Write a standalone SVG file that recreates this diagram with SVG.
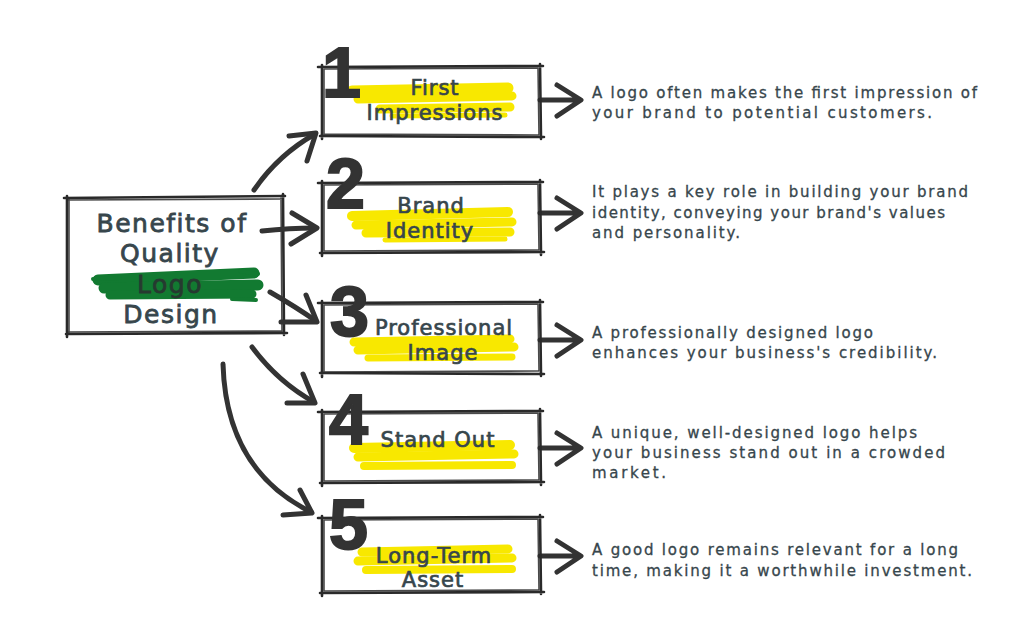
<svg xmlns="http://www.w3.org/2000/svg" width="1020" height="626" viewBox="0 0 1020 626">
<style>
.sk{fill:none;stroke:#2a2a2a;stroke-width:2.6;stroke-linecap:round;stroke-linejoin:round}
.sk2{fill:none;stroke:#2a2a2a;stroke-width:1.6;stroke-linecap:round;opacity:.85}
.ar{fill:none;stroke:#333;stroke-width:5;stroke-linecap:round;stroke-linejoin:round}
.hy{fill:none;stroke:#f8e800;stroke-linecap:round}
.hg{fill:none;stroke:#127a31;stroke-linecap:round}
.lbl{font-family:"DejaVu Sans","Open Sans",sans-serif;font-size:21px;letter-spacing:1px;fill:#37464c;stroke:#37464c;stroke-width:0.7;text-anchor:middle}
.ttl{font-family:"DejaVu Sans","Open Sans",sans-serif;font-size:25px;letter-spacing:1.5px;fill:#37464c;stroke:#37464c;stroke-width:0.8;text-anchor:middle}
.dsc{font-family:"DejaVu Sans","Open Sans",sans-serif;font-size:15px;fill:#37464c;stroke:#37464c;stroke-width:0.3}
.num{font-family:"Liberation Sans",Arial,sans-serif;font-size:70px;font-weight:bold;fill:#333;stroke:#333;stroke-width:2}
</style>
<rect width="1020" height="626" fill="#fff"/>

<g id="main">
<path class="sk" d="M64 198 L285 196 M283 194 L284 335 M287 333 L66 334 M67 337 L67 196"/>
<path class="sk2" d="M68 200 L282 199 M281 198 L282 332 M282 331 L68 332 M69 333 L69 199"/>
<path class="hg" stroke-width="11" d="M98 280 L254 273"/>
<path class="hg" stroke-width="11" d="M104 288 L258 285"/>
<path class="hg" stroke-width="9" d="M110 295 L252 294"/>
<path class="hg" stroke-width="4" d="M93 279 L120 278 M240 271 L258 274 M232 299 L256 300"/>
<text class="ttl" x="172" y="232">Benefits of</text>
<text class="ttl" x="170" y="262">Quality</text>
<text class="ttl" x="170" y="293" style="fill:#263a30;stroke:#263a30">Logo</text>
<text class="ttl" x="171" y="323">Design</text>
</g>

<g id="connectors">
<path class="ar" d="M254 190 Q278 155 315 134"/>
<path class="ar" d="M289 136 L316 133 L307 161"/>
<path class="ar" d="M262 231 Q290 228 315 228"/>
<path class="ar" d="M292 213 L317 228 L291 244"/>
<path class="ar" d="M270 292 Q296 307 316 321"/>
<path class="ar" d="M306 295 L317 322 L281 322"/>
<path class="ar" d="M252 347 Q278 382 314 402"/>
<path class="ar" d="M303 374 L315 403 L287 403"/>
<path class="ar" d="M223 364 Q226 470 311 512"/>
<path class="ar" d="M300 490 L312 513 L283 515"/>
<path class="ar" d="M540 100 L580 100 M557 85 L581 100 L557 116"/>
<path class="ar" d="M540 213 L580 213 M557 198 L581 213 L557 229"/>
<path class="ar" d="M540 340 L580 340 M557 325 L581 340 L557 356"/>
<path class="ar" d="M540 448 L580 448 M557 433 L581 448 L557 464"/>
<path class="ar" d="M540 556 L580 556 M557 541 L581 556 L557 572"/>
</g>

<g id="node1">
<path class="sk" d="M318 67 L543 66 M540 64 L541 139 M544 137 L320 136 M322 139 L322 65"/>
<path class="sk2" d="M324 69 L538 68 M538 68 L539 135 M538 135 L324 134 M324 135 L324 69"/>
<path class="hy" stroke-width="11" d="M352 91 L508 88"/>
<path class="hy" stroke-width="9" d="M358 99 L512 96"/>
<path class="hy" stroke-width="9" d="M380 109 L510 107"/>
<path class="hy" stroke-width="5" d="M392 116 L505 115"/>
<text class="num" x="322" y="97">1</text>
<text class="lbl" x="435" y="95">First</text>
<text class="lbl" x="435" y="120">Impressions</text>
<text class="dsc" x="592" y="98" textLength="385" lengthAdjust="spacing">A logo often makes the first impression of</text>
<text class="dsc" x="592" y="118" textLength="340" lengthAdjust="spacing">your brand to potential customers.</text>
</g>

<g id="node2">
<path class="sk" d="M318 183 L543 182 M540 180 L541 255 M544 252 L320 253 M322 256 L322 181"/>
<path class="sk2" d="M324 185 L538 184 M538 184 L539 250 M538 250 L324 251 M324 251 L324 185"/>
<path class="hy" stroke-width="10" d="M352 216 L508 212"/>
<path class="hy" stroke-width="9" d="M356 225 L512 222"/>
<path class="hy" stroke-width="9" d="M366 233 L510 232"/>
<path class="hy" stroke-width="5" d="M385 240 L505 239"/>
<text class="num" x="326" y="208">2</text>
<text class="lbl" x="431" y="213">Brand</text>
<text class="lbl" x="430" y="238">Identity</text>
<text class="dsc" x="592" y="197" textLength="376" lengthAdjust="spacing">It plays a key role in building your brand</text>
<text class="dsc" x="592" y="218" textLength="353" lengthAdjust="spacing">identity, conveying your brand's values</text>
<text class="dsc" x="592" y="238" textLength="148" lengthAdjust="spacing">and personality.</text>
</g>

<g id="node3">
<path class="sk" d="M318 303 L543 302 M540 300 L541 376 M544 374 L320 373 M322 377 L322 301"/>
<path class="sk2" d="M324 305 L538 304 M538 304 L539 371 M538 371 L324 372 M324 372 L324 305"/>
<path class="hy" stroke-width="9" d="M354 342 L510 339"/>
<path class="hy" stroke-width="9" d="M358 350 L514 347"/>
<path class="hy" stroke-width="7" d="M368 358 L512 357"/>
<text class="num" x="330" y="336">3</text>
<text class="lbl" x="444" y="335">Professional</text>
<text class="lbl" x="443" y="360">Image</text>
<text class="dsc" x="592" y="338" textLength="281" lengthAdjust="spacing">A professionally designed logo</text>
<text class="dsc" x="592" y="358" textLength="345" lengthAdjust="spacing">enhances your business's credibility.</text>
</g>

<g id="node4">
<path class="sk" d="M318 412 L543 411 M540 409 L541 485 M544 482 L320 483 M322 486 L322 410"/>
<path class="sk2" d="M324 414 L538 413 M538 413 L539 480 M538 480 L324 481 M324 481 L324 414"/>
<path class="hy" stroke-width="10" d="M354 448 L510 445"/>
<path class="hy" stroke-width="9" d="M358 457 L514 454"/>
<path class="hy" stroke-width="8" d="M364 466 L512 465"/>
<text class="num" x="329" y="444">4</text>
<text class="lbl" x="438" y="447">Stand Out</text>
<text class="dsc" x="592" y="438" textLength="325" lengthAdjust="spacing">A unique, well-designed logo helps</text>
<text class="dsc" x="592" y="458" textLength="353" lengthAdjust="spacing">your business stand out in a crowded</text>
<text class="dsc" x="592" y="478" textLength="74" lengthAdjust="spacing">market.</text>
</g>

<g id="node5">
<path class="sk" d="M318 518 L543 517 M540 515 L541 594 M544 592 L320 593 M322 596 L322 516"/>
<path class="sk2" d="M324 520 L538 519 M538 519 L539 590 M538 590 L324 591 M324 591 L324 520"/>
<path class="hy" stroke-width="9" d="M362 552 L508 549"/>
<path class="hy" stroke-width="9" d="M358 561 L512 558"/>
<path class="hy" stroke-width="8" d="M366 570 L512 569"/>
<text class="num" x="329" y="549">5</text>
<text class="lbl" x="434" y="563">Long-Term</text>
<text class="lbl" x="433" y="587">Asset</text>
<text class="dsc" x="592" y="555" textLength="366" lengthAdjust="spacing">A good logo remains relevant for a long</text>
<text class="dsc" x="592" y="576" textLength="380" lengthAdjust="spacing">time, making it a worthwhile investment.</text>
</g>
</svg>
